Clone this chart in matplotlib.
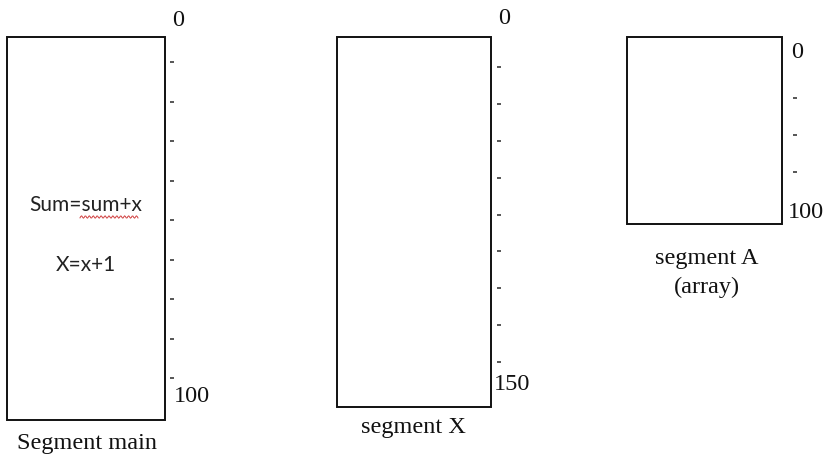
import numpy as np
import matplotlib.pyplot as plt
from matplotlib.patches import Rectangle

# segment data
seg_names = ["Segment main", "segment X", "segment A\n(array)"]
seg_start = ["0", "0", "0"]
seg_end = ["100", "150", "100"]
seg_dots = [9, 9, 3]
code_lines = ["Sum=sum+x", "X=x+1"]

# layout in pixels (x0, x1, y0, y1)
boxes = [(7, 165, 37, 420), (337, 491, 37, 407), (627, 782, 37, 224)]
start_pos = [(178, 20), (504, 18), (797, 52)]
end_pos = [(192, 397), (512, 385), (806, 212)]
dot_x = [172, 499, 795]
dot_span = [(62, 378), (67, 362), (98, 172)]
name_pos = [(87, 444), (413, 428), (707, 273)]

serif = "Liberation Serif"

fig = plt.figure(figsize=(8.26, 4.63), dpi=100)
ax = fig.add_axes([0, 0, 1, 1])
ax.set_xlim(0, 826)
ax.set_ylim(463, 0)
ax.axis("off")

for i in range(3):
    x0, x1, y0, y1 = boxes[i]
    ax.add_patch(Rectangle((x0, y0), x1 - x0, y1 - y0, fill=False,
                           edgecolor="#111111", lw=1.4))
    ax.text(start_pos[i][0], start_pos[i][1], seg_start[i], family=serif,
            fontsize=17.5, ha="center", va="center", color="#111111")
    ax.text(end_pos[i][0], end_pos[i][1], seg_end[i], family=serif,
            fontsize=17.5, ha="center", va="center", color="#111111")
    ys = np.linspace(dot_span[i][0], dot_span[i][1], seg_dots[i])
    ax.plot([dot_x[i]] * len(ys), ys, ls="none", marker="_", ms=2.5,
            mew=1.4, color="#555555")
    ax.text(name_pos[i][0], name_pos[i][1], seg_names[i], family=serif,
            fontsize=17.5, ha="center", va="center", color="#111111",
            linespacing=1.45)

# code inside segment main
ax.text(86, 205, code_lines[0], family="Lato", fontsize=15,
        ha="center", va="center", color="#222222")
ax.text(86, 265, code_lines[1], family="Lato", fontsize=15,
        ha="center", va="center", color="#222222")

# spell-check squiggle under "sum+x"
wx = np.linspace(80, 138, 70)
ax.plot(wx, 217 + 1.2 * np.sin(wx * 1.6), color="#d04040", lw=0.7)

fig.savefig("out.png", dpi=100)
